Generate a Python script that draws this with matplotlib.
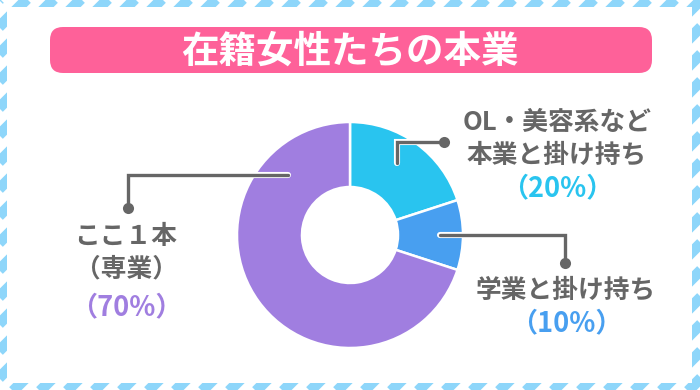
import numpy as np
import matplotlib
matplotlib.use("Agg")
import matplotlib.pyplot as plt
import matplotlib.patheffects as pe
from matplotlib.patches import FancyBboxPatch, Rectangle

plt.rcParams['font.family'] = ['Noto Sans CJK JP', 'DejaVu Sans']

# data
title = "在籍女性たちの本業"
shares = [20, 10, 70]
slice_colors = ["#29c4ef", "#489ff0", "#a07ee0"]
label_lines = [["OL・美容系など", "本業と掛け持ち"], ["学業と掛け持ち"], ["ここ１本", "（専業）"]]
pct_labels = ["（20%）", "（10%）", "（70%）"]

W, H = 700, 390
fig = plt.figure(figsize=(7, 3.9), dpi=100)
ax = fig.add_axes([0, 0, 1, 1])

# striped border
stripe = "#8ed6fa"
for c in np.arange(36 - 27 * 20, W + H + 27, 27):
    ax.plot([c, c - H - 20], [0 - 10, H + 10], color=stripe, lw=7.8, solid_capstyle="butt", zorder=0)
ax.add_patch(Rectangle((7, 7), 685, 376, facecolor="white", edgecolor="none", zorder=1))

# title bar
ax.add_patch(FancyBboxPatch((50, 27), 602, 46, boxstyle="round,pad=0,rounding_size=13",
                            facecolor="#fe6199", edgecolor="none", zorder=2))
ax.text(350, 51, title, color="white", fontsize=27, fontweight="bold",
        ha="center", va="center", zorder=3)

# donut (y axis is inverted below, so start at -90 and go counterclockwise)
cx, cy, R = 350, 235, 113
wedges, _ = ax.pie(shares, colors=slice_colors, startangle=-90, counterclock=True,
                   radius=R, center=(cx, cy),
                   wedgeprops=dict(width=R - 48, edgecolor="white", linewidth=1.8))
for w in wedges:
    w.set_zorder(3)

gray = "#666666"
line_fx = [pe.Stroke(linewidth=4.4, foreground="white"), pe.Normal()]


def anchor(angle, r):
    a = np.deg2rad(angle)
    return cx + r * np.cos(a), cy - r * np.sin(a)


# leader lines: anchor on the ring, elbow, end dot
ax0, ay0 = anchor(57, 86)
ax1, ay1 = anchor(0, 90)
ax2, ay2 = anchor(136, 86)
leaders = [
    ([ax0, ax0, 444], [ay0, 142, 142]),
    ([ax1, 565, 565], [ay1, ay1, 263]),
    ([ax2, 128, 128], [ay2, ay2, 208]),
]
for xs, ys in leaders:
    ax.plot(xs, ys, color=gray, lw=2.4, solid_capstyle="round", solid_joinstyle="miter",
            path_effects=line_fx, zorder=4)
    ax.plot(xs[-1], ys[-1], "o", color=gray, ms=8, mec="none", zorder=5)

# labels
label_pos = [(557, [122, 155], 188), (566, [290], 323), (126, [236, 269], 307)]
for (x, ys, yp), lines, pct, col in zip(label_pos, label_lines, pct_labels, slice_colors):
    for y, t in zip(ys, lines):
        ax.text(x, y, t, color=gray, fontsize=18.5, fontweight="bold", ha="center", va="center", zorder=5)
    ax.text(x, yp, pct, color=col, fontsize=19.5, fontweight="bold", ha="center", va="center", zorder=5)

ax.set_xlim(0, W)
ax.set_ylim(H, 0)
ax.set_aspect("auto")
ax.axis("off")

fig.savefig("out.png", dpi=100, facecolor="white")
